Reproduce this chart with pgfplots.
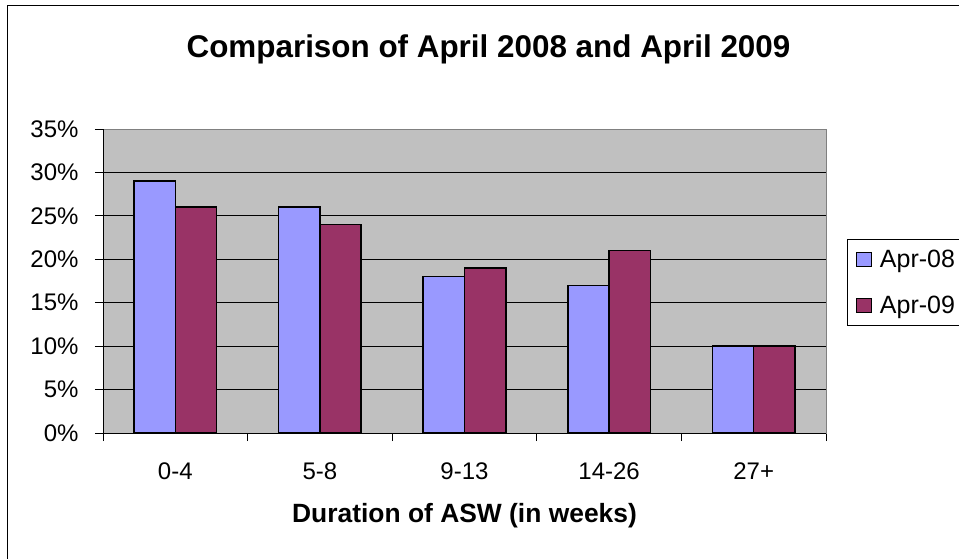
\documentclass[border=0pt]{standalone}
\usepackage{fontspec}
\setmainfont{Liberation Sans}
\usepackage{pgfplots}
\pgfplotsset{compat=1.18}
\definecolor{plotgray}{HTML}{C0C0C0}
\definecolor{edgegray}{HTML}{808080}
\definecolor{aprA}{HTML}{9999FF}
\definecolor{aprB}{HTML}{993366}
\pgfplotsset{
  sqlegend/.style={legend image code/.code={%
    \draw[##1, line width=1pt] (0pt,-7pt) rectangle (15pt,7pt);
    \path[draw=none, fill=none] (0pt,0pt) -- (21pt,0pt);}}
}

\begin{document}
\begin{tikzpicture}[x=1pt,y=1pt]
\useasboundingbox (0,0) rectangle (959,558);
\clip (0,0) rectangle (959,558);
\fill[white] (0,0) rectangle (959,558);
\draw[black, line width=1pt] (7,-10) rectangle (975,552);

\node[anchor=base, font=\fontsize{31.4}{36}\selectfont\bfseries] at (488.5,500)
  {Comparison of April 2008 and April 2009};
\node[anchor=base, font=\fontsize{26.4}{30}\selectfont\bfseries] at (464.5,36)
  {Duration of ASW (in weeks)};

\begin{axis}[
    at={(103pt,125pt)}, anchor=south west,
    scale only axis,
    width=723pt, height=304pt,
    xmin=-0.5, xmax=4.5,
    ymin=0, ymax=35,
    ybar=0pt, bar width=41.3pt,
    axis background/.style={fill=plotgray},
    axis line style={draw=edgegray, line width=1pt},
    ymajorgrids,
    grid style={black, line width=1pt},
    ytick={0,5,...,35},
    yticklabels={0\%,5\%,10\%,15\%,20\%,25\%,30\%,35\%},
    yticklabel style={xshift=-13pt},
    xtick={-0.5,0.5,1.5,2.5,3.5,4.5},
    xticklabels={},
    extra x ticks={0,1,2,3,4},
    extra x tick labels={0-4,5-8,9-13,14-26,27+},
    extra x tick style={major tick length=0pt, tick style={draw=none},
      xticklabel style={yshift=-26pt}},
    tick align=outside, tick pos=left,
    major tick length=8pt,
    tick style={black, line width=1pt},
    tick label style={font=\fontsize{24}{28}\selectfont},
    legend style={at={(1.029,0.638)}, anchor=north west,
      draw=black, line width=1pt, fill=white,
      font=\fontsize{25}{30}\selectfont,
      row sep=24pt, inner xsep=9pt, inner ysep=8pt},
    legend cell align=left,
]
\addplot[fill=aprA, draw=black, line width=1.5pt, sqlegend]
  coordinates {(0,29) (1,26) (2,18) (3,17) (4,10)};
\addplot[fill=aprB, draw=black, line width=1.5pt, sqlegend]
  coordinates {(0,26) (1,24) (2,19) (3,21) (4,10)};
\legend{Apr-08, Apr-09}
\draw[black, line width=1pt] (rel axis cs:0,1) -- (rel axis cs:0,0) -- (rel axis cs:1,0);
\end{axis}
\end{tikzpicture}
\end{document}
